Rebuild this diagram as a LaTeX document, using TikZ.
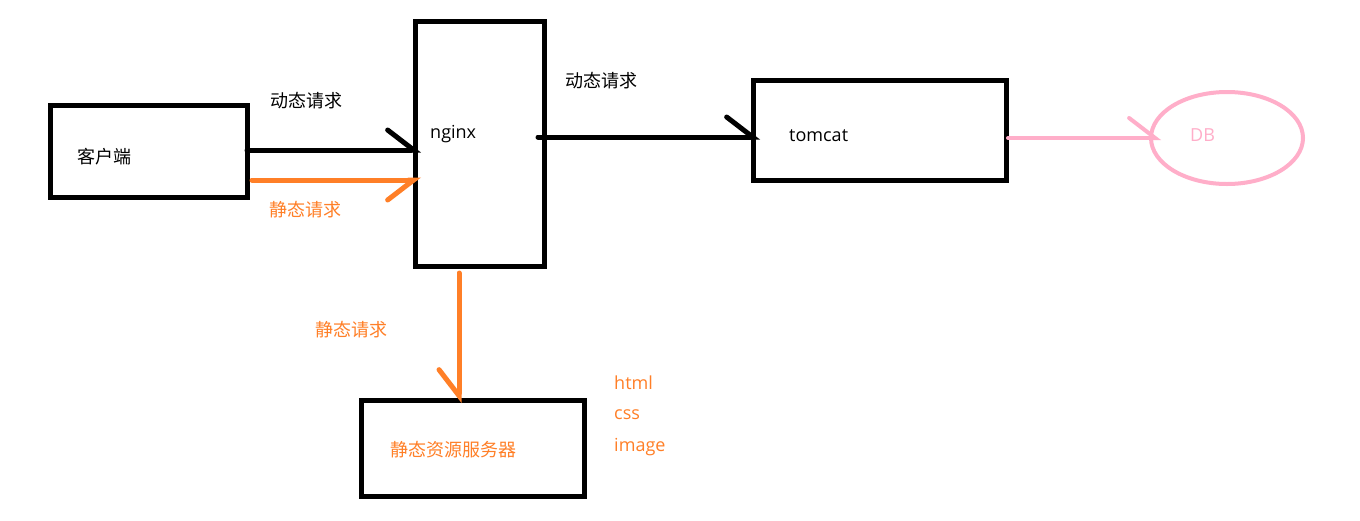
\documentclass[tikz,border=0pt]{standalone}
\usepackage{fontspec}
\setmainfont{Open Sans}
\newfontfamily\cjk{Noto Sans CJK SC}
\usetikzlibrary{arrows.meta,calc,shapes.geometric}
\definecolor{porange}{HTML}{FF7F27}
\definecolor{ppink}{HTML}{FFAEC9}
\tikzset{
  box/.style={draw=black,line width=5pt,outer sep=0pt,inner sep=0pt},
  lbl/.style={inner sep=0pt,anchor=west,font=\fontsize{18}{21}\selectfont},
  clbl/.style={inner sep=0pt,anchor=west,font=\cjk\fontsize{18}{21}\selectfont},
  conn/.style={line width=5pt,line cap=round},
  barbL/.style={-{Straight Barb[harpoon,length=26pt,width=40pt,line cap=round]}},
  barbR/.style={-{Straight Barb[harpoon,swap,length=26pt,width=40pt,line cap=round]}},
}
\begin{document}
\begin{tikzpicture}[x=1pt,y=-1pt]
\useasboundingbox[fill=white] (0,0) rectangle (1360,520);
% boxes
\node[box,minimum width=197pt,minimum height=92pt] (client) at (148.5,151) {};
\node[box,minimum width=129pt,minimum height=245pt] (nginx) at (479.5,143.5) {};
\node[box,minimum width=253pt,minimum height=100pt] (tomcat) at (879.5,130) {};
\node[box,minimum width=223pt,minimum height=96pt] (server) at (472.5,448) {};
\node[draw=ppink,line width=4pt,ellipse,minimum width=152pt,minimum height=92pt,inner sep=0pt,outer sep=0pt] (db) at (1227,138) {};
% labels in boxes
\node[clbl] (tclient) at (77,157) {客户端};
\node[lbl] (tnginx) at (430,134) {nginx};
\node[lbl] (ttomcat) at (789,136) {tomcat};
\node[lbl,text=ppink] (tdb) at (1190,135) {DB};
\node[clbl,text=porange] (tserver) at (390,450) {静态资源服务器};
% connector labels
\node[clbl] (l1) at (270,101) {动态请求};
\node[clbl,text=porange] (l2) at (269,210) {静态请求};
\node[clbl] (l3) at (565,81) {动态请求};
\node[clbl,text=porange] (l4) at (315,330) {静态请求};
\node[lbl,text=porange] (h1) at (614,383) {html};
\node[lbl,text=porange] (h2) at (614,415) {css};
\node[lbl,text=porange] (h3) at (614,447) {image};
% connectors
\draw[conn,barbL] ($(client.east)+(0,-1)$) -- ($(client.east -| nginx.west)+(6,-1)$);
\draw[conn,barbR,draw=porange] ($(client.east)+(5,29)$) -- ($(client.east -| nginx.west)+(6,29)$);
\draw[conn,barbL] ($(nginx.east)+(-6,-6.5)$) -- ($(nginx.east -| tomcat.west)+(7,-6.5)$);
\draw[conn,barbL,draw=ppink,line width=4pt] ($(tomcat.east)+(2,8)$) -- ($(db.west)+(10,0)$);
\draw[conn,barbR,draw=porange] ($(nginx.south)+(-20.5,7)$) -- ($(nginx.south |- server.north)+(-20.5,3)$);
\end{tikzpicture}
\end{document}
